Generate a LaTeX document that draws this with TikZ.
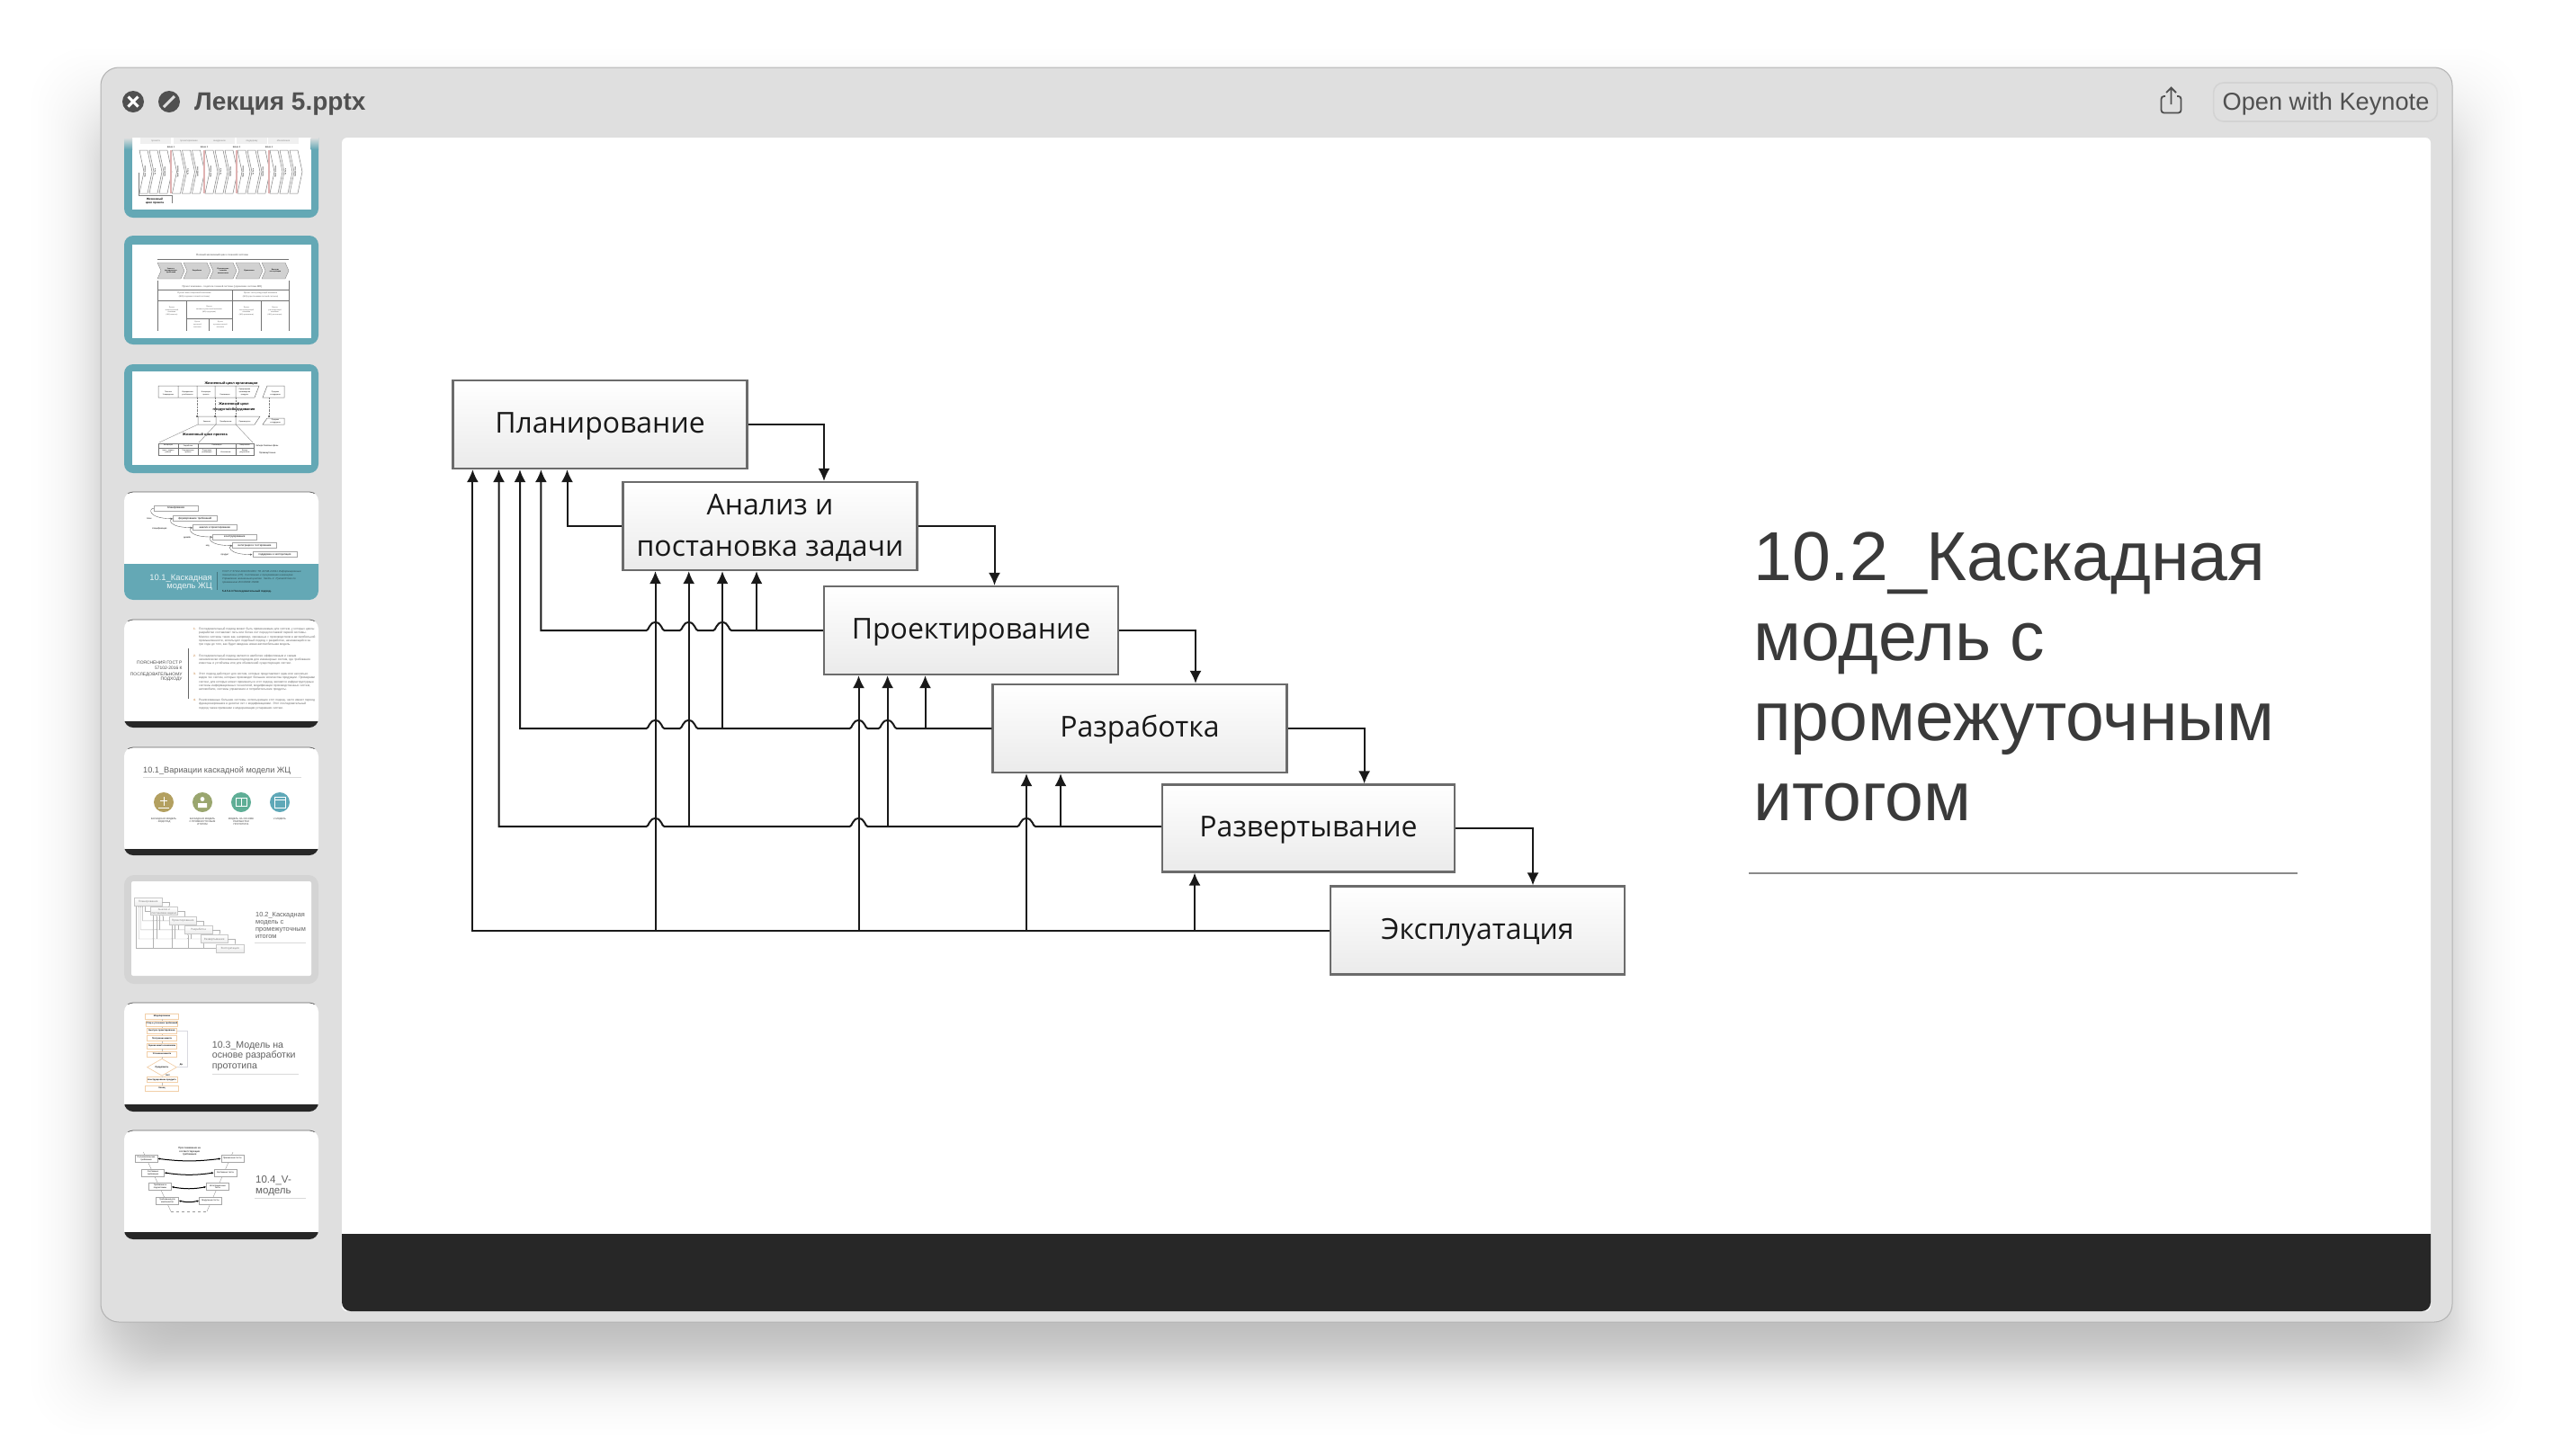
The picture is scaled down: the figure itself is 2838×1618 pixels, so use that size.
\documentclass[tikz,border=0pt]{standalone}
\usepackage{fontspec}
\setmainfont{Liberation Sans}
\newfontfamily\boxfont{Open Sans}
\newfontfamily\serfont{Liberation Serif}
\usetikzlibrary{arrows.meta,shapes.geometric,calc}
\definecolor{winbg}{HTML}{DFDFDF}
\definecolor{teal}{HTML}{64A8B5}
\definecolor{barcol}{HTML}{272727}
\definecolor{titlecol}{HTML}{3A3A3A}
\definecolor{uicol}{HTML}{505050}
\definecolor{softline}{HTML}{8A8A8A}
\definecolor{orangebox}{HTML}{F2CFA8}
\definecolor{btnline}{HTML}{D3D3D3}
\newcommand\fsz[2]{\fontsize{#1}{#2}\selectfont}
\newcommand\tp{\rule{0pt}{27.5pt}}
\newcommand\hmp[2]{-- ({#1+10},#2) .. controls ({#1+7},#2) and ({#1+7},{#2-9}) .. (#1,{#2-9}) .. controls ({#1-7},{#2-9}) and ({#1-7},#2) .. ({#1-10},#2)}
\tikzset{
  cbox/.style={draw=black!58,line width=2.2pt,top color=white,bottom color=black!8,minimum width=327pt,minimum height=98pt,inner sep=0pt,align=center,text=black!90,font=\boxfont\fsz{32}{46}},
  conn/.style={draw=black!90,line width=2pt,-{Latex[length=14pt,width=13pt]}},
  tiny/.style={inner sep=0pt,align=center},
  thbox/.style={draw=black!35,line width=.6pt,fill=white,inner sep=0pt,align=center,font=\fsz{2.9}{3.2}},
  tl/.style={draw=black!55,line width=.5pt},
}
% the cascade diagram, used at full size and inside its thumbnail
\newcommand\cascade{%
  \node[cbox] (plan) at (667,472) {\tp Планирование};
  \node[cbox] (an) at (856,585) {\tp Анализ и\\постановка задачи};
  \node[cbox] (pr) at (1079.5,701) {\tp Проектирование};
  \node[cbox] (ra) at (1267,810) {\tp Разработка};
  \node[cbox,minimum width=325pt,minimum height=97pt] (rz) at (1454.5,921) {\tp Развертывание};
  \node[cbox] (ex) at (1642.5,1034.5) {\tp Эксплуатация};
  % forward
  \draw[conn] (plan.east) -| (an.north -| 916,0);
  \draw[conn] (an.east) -| (pr.north -| 1105.5,0);
  \draw[conn] (pr.east) -| (ra.north -| 1329,0);
  \draw[conn] (ra.east) -| (rz.north -| 1516.6,0);
  \draw[conn] (rz.east) -| (ex.north -| 1704,0);
  % feedback trunks
  \draw[conn] (an.west) -| (plan.south -| 630.5,0);
  \draw[conn] (pr.west) \hmp{803}{701} \hmp{765.7}{701} \hmp{728.5}{701} -| (plan.south -| 601.4,0);
  \draw[conn] (ra.west) \hmp{986.6}{810} \hmp{954.5}{810} \hmp{765.7}{810} \hmp{728.5}{810} -| (plan.south -| 578,0);
  \draw[conn] (rz.west |- 0,919) \hmp{1141}{919} \hmp{954.5}{919} \hmp{728.5}{919} -| (plan.south -| 554.5,0);
  \draw[conn] (ex.west) -| (plan.south -| 525.4,0);
  % branches
  \coordinate (b1) at (841,701);
  \coordinate (b2) at (803,810);
  \coordinate (b3) at (1028.5,810);
  \coordinate (b4) at (765.7,919);
  \coordinate (b5) at (986.6,919);
  \coordinate (b6) at (1179,919);
  \coordinate (b7) at (728.5,1034.5);
  \coordinate (b8) at (954.5,1034.5);
  \coordinate (b9) at (1141,1034.5);
  \coordinate (b10) at (1328,1034.5);
  \draw[conn] (b1) -- (an.south -| b1);
  \draw[conn] (b2) -- (an.south -| b2);
  \draw[conn] (b4) -- (an.south -| b4);
  \draw[conn] (b7) -- (an.south -| b7);
  \draw[conn] (b3) -- (pr.south -| b3);
  \draw[conn] (b5) -- (pr.south -| b5);
  \draw[conn] (b8) -- (pr.south -| b8);
  \draw[conn] (b6) -- (ra.south -| b6);
  \draw[conn] (b9) -- (ra.south -| b9);
  \draw[conn] (b10) -- (rz.south -| b10);
}
% thumbnail with dark foot: top, bar top, bottom
\newcommand\darkthumb[3]{%
  \fill[white,rounded corners=10pt] (138,#1) rectangle (354,#3);
  \begin{scope}\clip (130,#2) rectangle (360,{#3+2});
    \fill[barcol,rounded corners=10pt] (138,#1) rectangle (354,#3);
  \end{scope}
  \begin{scope}\clip (130,{#1-1}) rectangle (360,{#1+1});
    \draw[black!60,line width=.8pt,rounded corners=10pt] (138,#1) rectangle (354,#3);
  \end{scope}
}
\begin{document}
\begin{tikzpicture}[x=1pt,y=-1pt]
\useasboundingbox (0,0) rectangle (2838,1618);
\fill[white] (0,0) rectangle (2838,1618);
% window shadow
\foreach \k in {1,...,70}{
  \pgfmathsetmacro\d{5+88*tan(((\k-35.5)/36)*70)/tan(70)}
  \fill[black,opacity=.0055,rounded corners=60pt] ({116-(\d)},{135-(\d)}) rectangle ({2722+(\d)},{1515+(\d)});
}
% window
\draw[fill=winbg,draw=black!30,line width=1pt,rounded corners=20pt] (112,75) rectangle (2726,1470);
% title bar
\fill[uicol] (148,113) circle (12pt);
\draw[white,line width=3pt] (142.5,107.5) -- (153.5,118.5) (153.5,107.5) -- (142.5,118.5);
\fill[uicol] (188,113) circle (12pt);
\draw[winbg,line width=3pt] (182,119) -- (194,107);
\node[anchor=base west,inner sep=0pt,text=uicol,font=\fsz{28}{30}\bfseries] (title) at (216,122) {Лекция 5.pptx};
\draw[uicol,line width=1.8pt,rounded corners=3pt] (2407,107) -- (2402.5,107) -- (2402.5,125.5) -- (2424.5,125.5) -- (2424.5,107) -- (2420,107);
\draw[uicol,line width=1.8pt] (2413.5,116) -- (2413.5,98) (2408,103) -- (2413.5,97.5) -- (2419,103);
\draw[draw=btnline,line width=1.6pt,rounded corners=11pt] (2460.6,92) rectangle (2709.4,135);
\node[anchor=base,inner sep=0pt,text=uicol,font=\fsz{27.2}{30}] (openk) at (2585.5,122) {Open with Keynote};
% slide
\fill[white,rounded corners=6pt] (380,153) rectangle (2702,1458);
\begin{scope}\clip (370,1372) rectangle (2710,1462);
  \fill[barcol,rounded corners=10pt] (380,1300) rectangle (2702,1458);
\end{scope}
% main diagram
\cascade
% slide title
\tikzset{bigt/.style={anchor=base west,inner sep=0pt,text=titlecol,font=\fsz{77}{89}}}
\node[bigt] (s1) at (1949,645) {10.2\_Каскадная};
\node[bigt] (s2) at (1949,734) {модель с};
\node[bigt] (s3) at (1949,823) {промежуточным};
\node[bigt] (s4) at (1949,912) {итогом};
\draw[softline,line width=2.4pt] (1944,971) -- (2554,971);
%%%% thumbnail 1
\begin{scope}
  \clip (130,153) rectangle (360,250);
  \fill[teal,rounded corners=10pt] (138,120) rectangle (354,242);
  \fill[white] (147,120) rectangle (345.5,233);
  \shade[top color=winbg,bottom color=teal] (138,153) rectangle (147,166);
  \shade[top color=winbg,bottom color=teal] (345.5,153) rectangle (354,166);
  \foreach \x/\t [count=\i] in {173/проекта,210/проектирование,244/внедрению,280/поддержку,315/обновление}{
    \fill[black!6] ({\x-17},153) rectangle ({\x+17},160);
    \node[tiny,text=black!45,font=\fsz{2.6}{3}] (ta\i) at (\x,157) {\t};
  }
  \foreach \x [count=\i] in {155,191.5,228,264,300}{
    \foreach \k [count=\j] in {0,11,22}{
      \draw[black!50,line width=.5pt,fill=white] ({\x+\k},167) -- ({\x+\k+9},167) -- ({\x+\k+14},191) -- ({\x+\k+9},215) -- ({\x+\k},215) -- ({\x+\k+5},191) -- cycle;
    }
    \node[tiny,rotate=90,font=\fsz{2}{2.4}] (tp\i) at ({\x+6.5},191) {Планирование};
    \node[tiny,rotate=90,font=\fsz{2}{2.4}] (tq\i) at ({\x+17.5},191) {Работа};
    \node[tiny,rotate=90,font=\fsz{2}{2.4}] (tr\i) at ({\x+28.5},191) {Завершение};
  }
  \foreach \x [count=\i] in {189,226,262,298}{
    \fill[red!60!black!30] ({\x},167) rectangle ({\x+2.4},215);
    \node[tiny,font=\fsz{2.4}{3}] (tg\i) at ({\x+1},164) {Шлюз \i};
  }
  \draw[black!50,line width=.5pt] (154,192) -- (154,217) -- (191,217) -- (191,226);
  \node[tiny,font=\fsz{3.1}{4.4}\bfseries] (tz) at (172,223.5) {Жизненный\\цикл проекта};
\end{scope}
%%%% thumbnail 2
\fill[teal,rounded corners=10pt] (138,262) rectangle (354,383);
\fill[white] (147,272) rectangle (345.5,376);
\node[tiny,text=black!70,font=\serfont\fsz{3.1}{3.5}] (u1) at (247,284) {Полный жизненный цикл сложной системы};
\draw[tl] (175,288) -- (321,288);
\foreach \x/\t [count=\i] in {175/{Замысел,\\формирование\\требований},204/Разработка,233/{Производство\\сложных\\компонентов},262/Применение,291/{Вывод из\\эксплуатации}}{
  \draw[black!45,line width=.4pt,fill=black!18] (\x,292) -- ({\x+26},292) -- ({\x+30},301) -- ({\x+26},310) -- (\x,310) -- ({\x+4},301) -- cycle;
  \node[tiny,font=\serfont\fsz{2}{2.4}\bfseries] (uc\i) at ({\x+15},301) {\t};
}
\node[tiny,text=black!70,font=\serfont\fsz{2.8}{3.2}] (u2) at (247,318.5) {Проект компании - создателя сложной системы (управление системы ЖЦ)};
\draw[tl] (175,322) -- (321,322) (175,312) -- (175,368) (321,312) -- (321,368) (207,334) -- (207,368) (258,322) -- (258,368) (290,334) -- (290,368);
\draw[tl] (175,334) -- (321,334);
\draw[tl] (207,354) -- (258,354) (232,354) -- (232,368);
\node[tiny,text=black!65,font=\serfont\fsz{2.5}{3.2}] (u3) at (216,328) {Проект инвестиционной компании\\(ЖЦ создания готовой системы)};
\node[tiny,text=black!65,font=\serfont\fsz{2.4}{3.2}] (u4) at (289.5,328) {Проект эксплуатирующей компании\\(ЖЦ существования готовой системы)};
\node[tiny,text=black!65,font=\serfont\fsz{2.1}{2.9}] (u5) at (191,346) {Проект\\концептуальной\\компании\\(ЖЦ замысла)};
\node[tiny,text=black!65,font=\serfont\fsz{2.1}{2.9}] (u6) at (232.5,344) {Проект\\машиностроительной компании\\(ЖЦ продукции)};
\node[tiny,text=black!65,font=\serfont\fsz{2.1}{2.9}] (u7) at (274,346) {Проект\\эксплуатирующей\\компании\\(ЖЦ применения)};
\node[tiny,text=black!65,font=\serfont\fsz{2.1}{2.9}] (u8) at (305.5,346) {Проект\\утилизирующей\\компании\\(ЖЦ утилизации)};
\node[tiny,text=black!65,font=\serfont\fsz{2}{2.7}] (u9) at (219.5,361) {Проект\\проектной\\компании};
\node[tiny,text=black!65,font=\serfont\fsz{2}{2.7}] (u10) at (245,361) {Проект\\производственной\\компании};
%%%% thumbnail 3
\fill[teal,rounded corners=10pt] (138,405) rectangle (354,526);
\fill[white] (147,413) rectangle (345.5,517);
\tikzset{t3/.style={tiny,font=\fsz{1.95}{2.7}},t3b/.style={tiny,font=\fsz{3.9}{6}\bfseries}}
\node[t3b] (v1) at (257,426) {Жизненный цикл организации};
\draw[tl] (176,429) -- (262,429) -- (262,442) -- (176,442) -- cycle (198,429) -- (198,442) (219,429) -- (219,442) (239,429) -- (239,442) (262,429) -- (288,429) -- (283,442) -- (262,442);
\draw[tl] (292,442) -- (297,429) -- (316,429) -- (316,442) -- cycle;
\node[t3] (v2) at (187,437.5) {Понятие\\Утверждение};
\node[t3] (v3) at (208.5,437.5) {Определение\\устойчивости};
\node[t3] (v4) at (229,437.5) {Инициация\\проекта};
\node[t3] (v5) at (250,439) {Реализация};
\node[t3] (v6) at (272,436) {Прекращение\\производства\\продукта};
\node[t3] (v7) at (306,437.5) {Продажа\\и поддержка};
\node[t3b] (v8) at (260,452) {Жизненный цикл\\продукта/оборудования};
\draw[black!50,line width=.4pt,densely dotted] (219,442) -- (219,463) (239,442) -- (239,463) (262,442) -- (262,463) (299,442) -- (299,463);
\fill[black] (219,463) circle (.9pt) (239,463) circle (.9pt) (262,463) circle (.9pt) (299,463) circle (.9pt);
\draw[tl] (220,463) -- (289,463) -- (283,472) -- (220,472) -- cycle (240,463) -- (240,472) (262,463) -- (262,472);
\draw[tl] (292,472) -- (297,465) -- (316,465) -- (316,472) -- cycle;
\node[t3] (v9) at (230,469) {Замысел};
\node[t3] (v10) at (251,469) {Приобретение};
\node[t3] (v11) at (272,469) {Производство};
\node[t3] (v12) at (306,468.5) {Продажа\\и поддержка};
\node[t3b] (v13) at (228,483) {Жизненный цикл проекта};
\draw[black!45,line width=.4pt] (220,472) -- (177,492) (240,472) -- (221,492) (262,472) -- (281,492);
\draw[tl] (176,493) rectangle (282,506) (176,498) -- (282,498) (198,493) -- (198,506) (220,493) -- (220,506) (262,493) -- (262,506) (240,498) -- (240,506);
\node[t3] (v14) at (187,495.5) {Концепция};
\node[t3] (v15) at (209,495.5) {Разработка};
\node[t3] (v16) at (241,495.5) {Реализация};
\node[t3] (v17) at (272,495.5) {Завершение};
\node[t3] (v18) at (187,502) {Цели - задачи\\работы};
\node[t3] (v19) at (209,502) {Планирование\\проекта};
\node[t3] (v20) at (230,502) {Подготовка\\реализации};
\node[t3] (v21) at (251,503) {Исполнение};
\node[t3] (v22) at (272,502) {Вывод\\результатов};
\node[tiny,anchor=west,font=\fsz{2.4}{3}] (v23) at (284,496) {Четыре базовые фазы};
\node[tiny,anchor=west,font=\fsz{2.4}{3}] (v24) at (288,504) {Промежуточные};
%%%% thumbnail 4
\fill[white,rounded corners=10pt] (138,547) rectangle (354,667);
\begin{scope}\clip (130,627) rectangle (360,670);
  \fill[teal,rounded corners=10pt] (138,547) rectangle (354,667);
\end{scope}
\begin{scope}\clip (130,546) rectangle (360,548);
  \draw[black!60,line width=.8pt,rounded corners=10pt] (138,547) rectangle (354,667);
\end{scope}
\foreach \x/\y/\t [count=\i] in {170.7/562/планирование,192/573.3/формирование требований,214/583.3/анализ и проектирование,236/593.7/конструирование,258.3/603.3/интеграция и тестирование,280.7/613.3/поддержка и эксплуатация}{
  \node[thbox,minimum width=49pt,minimum height=6pt,anchor=north west] (w\i) at (\x,\y) {\t};
}
\foreach \a/\b/\lx in {1/2/165,2/3/187,3/4/209,4/5/231,5/6/253}
  \draw[black!60,line width=.4pt,-{Latex[length=2.5pt,width=2pt]}] (w\a.west) .. controls (\lx,{0}|-w\a.west) and (\lx,{0}|-w\b.west) .. (w\b.west);
\tikzset{t4/.style={tiny,font=\fsz{2.4}{3}}}
\node[t4] (x1) at (165.7,577) {план};
\node[t4] (x2) at (177.3,588) {спецификация};
\node[t4] (x3) at (208,598.3) {дизайн};
\node[t4] (x4) at (230.7,607.3) {код};
\node[t4] (x5) at (250,617.3) {продукт};
\tikzset{t4h/.style={tiny,anchor=base east,text=white!88!teal,font=\fsz{9.4}{10}}}
\node[t4h] (x6) at (236,645) {10.1\_Каскадная};
\node[t4h] (x7) at (236,654.5) {модель ЖЦ};
\draw[black!30!teal,line width=.5pt] (241,636) -- (241,656);
\node[anchor=north west,inner sep=0pt,text=black!55!teal,text width=93pt,align=left,font=\fsz{2.9}{4}\itshape] (x8) at (247,634) {ГОСТ Р 57102-2016/ISO/IEC TR 24748-2:2011 Информационные технологии (ИТ). Системная и программная инженерия. Управление жизненным циклом. Часть 2. Руководство по применению ИСО/МЭК 15288.};
\node[tiny,anchor=west,text=black!80!teal,font=\fsz{3}{4}\bfseries] (x9) at (247,657.5) {5.4.5.2.3 Последовательный подход.};
%%%% thumbnail 5
\darkthumb{689}{802}{809}
\tikzset{t5h/.style={tiny,anchor=base east,text=black!70,font=\fsz{4.9}{5}}}
\node[t5h] (y1) at (202.7,738) {ПОЯСНЕНИЯ ГОСТ Р};
\node[t5h] (y2) at (202.7,744.5) {57102-2016 К};
\node[t5h] (y3) at (202.7,751) {ПОСЛЕДОВАТЕЛЬНОМУ};
\node[t5h] (y4) at (202.7,756.5) {ПОДХОДУ};
\draw[black!60,line width=.9pt] (209.3,720.7) -- (209.3,776.7);
\tikzset{para/.style={anchor=north west,inner sep=0pt,text width=129.5pt,align=left,text=black!60,font=\fsz{3.25}{4.25}}}
\foreach \y/\n in {698/1,727.7/2,748/3,777/4}
  \node[inner sep=0pt,anchor=north east,text=orange!70!black,font=\fsz{3.2}{4}] (yn\n) at (218,\y) {\n.};
\node[para] (p1) at (221,698) {Последовательный подход может быть применяемым для систем, у которых циклы разработки составляют пять или более лет перед поставкой первой системы. Многие системы такие как, например, связанные с производством в автомобильной промышленности, используют подобный подход с разработки, начинающейся за три года до того, как будет введена новая автомобильная модель.};
\node[para] (p2) at (221,727.7) {Последовательный подход является наиболее эффективным и самым экономически обоснованным подходом для инженерных систем, где требования известны и устойчивы или для обновлений существующих систем.};
\node[para] (p3) at (221,748) {Этот подход действует для систем, которые представляют один или несколько видов тех систем, которые производят большие количества продукции. Примерами систем, для которых может применяться этот подход, являются инфраструктурные системы информационных технологий, модификации производственных систем, автомобили, системы управления и потребительские продукты.};
\node[para] (p4) at (221,777) {Реализованные большие системы, использующие этот подход, часто имеют период функционирования в десятки лет с модификациями. Этот последовательный подход также применим к модернизации устаревших систем.};
%%%% thumbnail 6
\darkthumb{831}{944}{951}
\node[tiny,anchor=base west,text=black!62,font=\fsz{9.2}{10}] (z0) at (159,859) {10.1\_Вариации каскадной модели ЖЦ};
\draw[black!15,line width=.8pt] (159,864) -- (335,864);
\definecolor{c1}{HTML}{B3A060}\definecolor{c2}{HTML}{9AA66F}\definecolor{c3}{HTML}{5FAE96}\definecolor{c4}{HTML}{5FA8B8}
\foreach \x/\c/\t [count=\i] in {182/c1/{КАСКАДНАЯ МОДЕЛЬ\\- ВОДОПАД},225/c2/{КАСКАДНАЯ МОДЕЛЬ\\С ПРОМЕЖУТОЧНЫМ\\ИТОГОМ},268/c3/{МОДЕЛЬ НА ОСНОВЕ\\РАЗРАБОТКИ\\ПРОТОТИПА},311/c4/{V-МОДЕЛЬ}}{
  \fill[\c] (\x,892) circle (11pt);
  \node[tiny,anchor=north,text=black!75,font=\fsz{2.7}{3.3}] (zt\i) at (\x,909) {\t};
}
\draw[white,line width=.8pt] (176,898) -- (188,898) (182,886) -- (182,896) (178,890) -- (186,890);
\fill[white] (225,888.5) circle (2.4pt) (220,898) rectangle (230,893);
\draw[white,line width=.8pt] (262,887) rectangle (274,896) (268,887) -- (268,896);
\draw[white,line width=.8pt] (305,886) rectangle (317,898) (305,889) -- (317,889);
%%%% thumbnail 7
\fill[black!17,rounded corners=11pt] (138,973) rectangle (354,1094);
\fill[white,rounded corners=2pt] (146,980) rectangle (346,1085);
\begin{scope}[shift={(102.6,959.4)},xscale=.0932,yscale=.092,name prefix=m-,transform shape]
  \tikzset{conn/.style={draw=black!30,line width=.4pt,-{Latex[length=1.4pt,width=1.2pt]}},
           cbox/.style={draw=black!22,line width=.5pt,top color=white,bottom color=black!8,minimum width=327pt,minimum height=98pt,inner sep=0pt,align=center,text=black!55,font=\boxfont\fsz{32}{46}}}
  \cascade
\end{scope}
\foreach \y/\t [count=\i] in {1019.3/10.2\_Каскадная,1027.7/модель с,1035.7/промежуточным,1043.3/итогом}
  \node[tiny,anchor=base west,text=black!62,font=\fsz{7.4}{8}] (q\i) at (284,\y) {\t};
\draw[black!15,line width=.8pt] (283,1048.7) -- (340,1048.7);
%%%% thumbnail 8
\darkthumb{1115}{1228}{1236}
\tikzset{obox/.style={draw=orangebox,line width=.7pt,fill=white,inner sep=0pt,align=center,font=\fsz{2.3}{3}\bfseries,minimum height=6pt}}
\foreach \y/\w/\t [count=\i] in {1130/37/Моделирование,1138.3/33/Сбор и уточнение требований,1146.3/33/Быстрое проектирование,1154.7/33/Построение макета,1163/33/Оценка макета заказчиком,1172/33/Уточнение макета,1200.7/34/Конструирование продукта,1210/37/Конец}
  \node[obox,minimum width=\w pt] (o\i) at (180,\y) {\t};
\node[draw=orangebox,line width=.7pt,diamond,aspect=1.75,inner sep=0pt,minimum width=33pt,minimum height=19pt,font=\fsz{2.4}{3}\bfseries] (od) at (180,1186.7) {Продолжать};
\foreach \a/\b in {o1/o2,o2/o3,o3/o4,o4/o5,o5/o6,o6/od,od/o7,o7/o8}
  \draw[black!25,line width=.4pt] (\a) -- (\b);
\draw[blue!20!black!15,line width=.6pt] (od.east) -| (208,1146.3) -- (o3.east);
\node[tiny,font=\fsz{2.4}{3}\bfseries] (on) at (201.5,1184) {Да};
\node[tiny,font=\fsz{2.4}{3}\bfseries] (oy) at (186.7,1195.5) {Нет};
\foreach \y/\t [count=\i] in {1165/10.3\_Модель на,1176.7/основе разработки,1188/прототипа}
  \node[tiny,anchor=base west,text=black!62,font=\fsz{10.6}{12}] (r\i) at (235.7,\y) {\t};
\draw[black!15,line width=.8pt] (236,1194.3) -- (332,1194.3);
%%%% thumbnail 9
\darkthumb{1257}{1370}{1378}
\draw[black!40,line width=.4pt] (159.3,1281) -- (190,1347);
\draw[black!40,line width=.4pt,dashed] (190,1347) -- (230,1347);
\draw[black!40,line width=.4pt] (230,1347) -- (259,1281);
\tikzset{vbox/.style={thbox,minimum width=25pt,minimum height=8pt,font=\fsz{2.3}{2.9}}}
\foreach \x/\y/\t [count=\i] in {162.5/1288.3/{Пользовательские\\требования},170/1304/{Системные\\требования},178/1319.7/{Требования к\\подсистемам},186/1335/{Требования для\\компонентов}}
  \node[vbox] (l\i) at (\x,\y) {\t};
\foreach \x/\y/\t [count=\i] in {258.3/1288.3/Приемочные тесты,250.5/1304/Системные тесты,242/1319.7/{Интеграционные\\тесты},234/1335/Модульные тесты}
  \node[vbox] (g\i) at (\x,\y) {\t};
\foreach \i/\b in {1/7,2/8,3/10,4/14}
  \draw[black,line width=1pt,{Latex[length=2.5pt,width=2.4pt]}-{Latex[length=2.5pt,width=2.4pt]}] (l\i.east) to[bend right=\b] (g\i.west);
\node[tiny,font=\fsz{2.8}{3.5}] (ll) at (210.7,1280.5) {Прослеживание на\\соответствующие\\требования};
\node[tiny,anchor=base west,text=black!62,font=\fsz{11.5}{12}] (n1) at (284,1315) {10.4\_V-};
\node[tiny,anchor=base west,text=black!62,font=\fsz{11.5}{12}] (n2) at (284,1327) {модель};
\draw[black!15,line width=.8pt] (283,1332) -- (340,1332);
\end{tikzpicture}
\end{document}
